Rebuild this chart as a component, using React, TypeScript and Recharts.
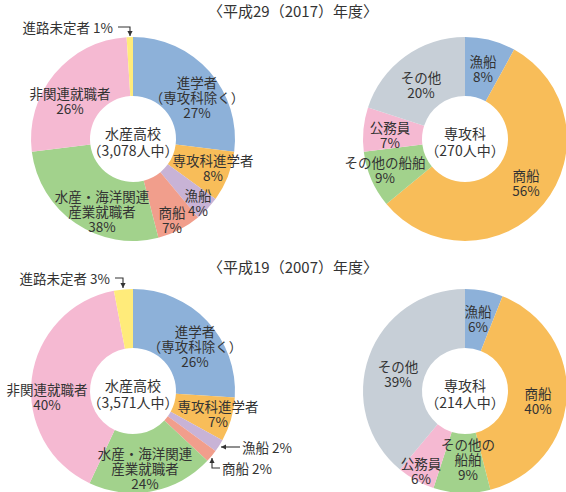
import { Pie, PieChart, Cell } from 'recharts';

const schoolCategories = ['進学者（専攻科除く）', '専攻科進学者', '漁船', '商船', '水産・海洋関連産業就職者', '非関連就職者', '進路未定者'];
const school2017 = [27, 8, 4, 7, 27, 26, 1];
const school2007 = [26, 7, 2, 2, 20, 40, 3];
const schoolColors = ['#8db1d9', '#f8bd59', '#c8b3d6', '#f19e8c', '#a2d28c', '#f5b9d2', '#ffeb7a'];

const majorCategories = ['漁船', '商船', 'その他の船舶', '公務員', 'その他'];
const major2017 = [8, 56, 9, 7, 20];
const major2007 = [6, 40, 9, 6, 39];
const majorColors = ['#8db1d9', '#f8bd59', '#a2d28c', '#f5b9d2', '#c7cfd7'];

const TEXT = '#333333';
const FONT = '"Noto Sans CJK JP", "Noto Sans", sans-serif';

type Leader = { text: string; x: number; y: number; anchor: 'start' | 'end'; path: number[][] };
type LabelSpot = { dx: number; dy: number; lines: string[]; leader?: Leader };

// shown percentage for the green slice includes 漁船 and 商船
const shown = (values: number[], i: number) =>
  i === 4 && values.length === 7 ? values[2] + values[3] + values[4] : values[i];

const schoolSpots2017 = (v: number[]): LabelSpot[] => [
  { dx: 64, dy: -57, lines: ['進学者', '（専攻科除く）', `${v[0]}%`] },
  { dx: 80, dy: 21, lines: ['専攻科進学者', `${v[1]}%`] },
  { dx: 65, dy: 56, lines: ['漁船', `${v[2]}%`] },
  { dx: 39, dy: 73, lines: ['商船', `${v[3]}%`] },
  { dx: -31, dy: 57, lines: ['水産・海洋関連', '産業就職者', `${shown(v, 4)}%`] },
  { dx: -63, dy: -46, lines: ['非関連就職者', `${v[5]}%`] },
  {
    dx: 0, dy: 0, lines: [],
    leader: { text: `進路未定者 ${v[6]}%`, x: -20, y: -112, anchor: 'end', path: [[-15, -112], [-3, -112], [-3, -103]] },
  },
];

const schoolSpots2007 = (v: number[]): LabelSpot[] => [
  { dx: 62, dy: -60, lines: ['進学者', '（専攻科除く）', `${v[0]}%`] },
  { dx: 85, dy: 15, lines: ['専攻科進学者', `${v[1]}%`] },
  {
    dx: 0, dy: 0, lines: [],
    leader: { text: `漁船 ${v[2]}%`, x: 109, y: 56, anchor: 'start', path: [[107, 56], [88, 56]] },
  },
  {
    dx: 0, dy: 0, lines: [],
    leader: { text: `商船 ${v[3]}%`, x: 89, y: 77, anchor: 'start', path: [[87, 77], [79, 77], [79, 67]] },
  },
  { dx: 12, dy: 62, lines: ['水産・海洋関連', '産業就職者', `${shown(v, 4)}%`] },
  { dx: -86, dy: -2, lines: ['非関連就職者', `${v[5]}%`] },
  {
    dx: 0, dy: 0, lines: [],
    leader: { text: `進路未定者 ${v[6]}%`, x: -23, y: -113, anchor: 'end', path: [[-18, -113], [-10, -113], [-10, -103]] },
  },
];

const majorSpots2017 = (v: number[]): LabelSpot[] => [
  { dx: 18, dy: -78, lines: ['漁船', `${v[0]}%`] },
  { dx: 61, dy: 36, lines: ['商船', `${v[1]}%`] },
  { dx: -80, dy: 23, lines: ['その他の船舶', `${v[2]}%`] },
  { dx: -75, dy: -12, lines: ['公務員', `${v[3]}%`] },
  { dx: -44, dy: -62, lines: ['その他', `${v[4]}%`] },
];

const majorSpots2007 = (v: number[]): LabelSpot[] => [
  { dx: 13, dy: -80, lines: ['漁船', `${v[0]}%`] },
  { dx: 73, dy: 2, lines: ['商船', `${v[1]}%`] },
  { dx: 3, dy: 53, lines: ['その他の', '船舶', `${v[2]}%`] },
  { dx: -44, dy: 72, lines: ['公務員', `${v[3]}%`] },
  { dx: -67, dy: -25, lines: ['その他', `${v[4]}%`] },
];

const toRows = (names: string[], values: number[]) => names.map((name, i) => ({ name, value: values[i] }));

const arrowHead = (from: number[], to: number[]) => {
  const ang = Math.atan2(to[1] - from[1], to[0] - from[0]);
  const len = 5;
  const w = 2.6;
  const bx = to[0] - len * Math.cos(ang);
  const by = to[1] - len * Math.sin(ang);
  const px = -Math.sin(ang) * w;
  const py = Math.cos(ang) * w;
  return `M${to[0]},${to[1]} L${bx + px},${by + py} L${bx - px},${by - py} Z`;
};

const makeLabel = (spots: LabelSpot[], center: string[]) => (props: any) => {
  const { cx, cy, index } = props;
  const spot = spots[index];
  const lh = 15;
  return (
    <g key={`lbl-${index}`}>
      {index === 0 && (
        <text x={cx} textAnchor="middle" fontSize={14} fill={TEXT} fontFamily={FONT}>
          <tspan x={cx} y={cy - 6} dominantBaseline="central">{center[0]}</tspan>
          <tspan x={cx} y={cy + 11} dominantBaseline="central">{center[1]}</tspan>
        </text>
      )}
      {spot.lines.length > 0 && (
        <text textAnchor="middle" fontSize={13.5} fill={TEXT} fontFamily={FONT}>
          {spot.lines.map((ln, k) => (
            <tspan key={k} x={cx + spot.dx} y={cy + spot.dy + k * lh} dominantBaseline="central">
              {ln}
            </tspan>
          ))}
        </text>
      )}
      {spot.leader && (
        <g>
          <text
            x={cx + spot.leader.x}
            y={cy + spot.leader.y}
            dominantBaseline="central"
            textAnchor={spot.leader.anchor}
            fontSize={13.5}
            fill={TEXT}
            fontFamily={FONT}
          >
            {spot.leader.text}
          </text>
          <polyline
            points={spot.leader.path.map((p) => `${cx + p[0]},${cy + p[1]}`).join(' ')}
            fill="none"
            stroke={TEXT}
            strokeWidth={1.1}
          />
          <path
            d={arrowHead(
              spot.leader.path[spot.leader.path.length - 2].map((c, j) => c + (j === 0 ? cx : cy)),
              spot.leader.path[spot.leader.path.length - 1].map((c, j) => c + (j === 0 ? cx : cy)),
            )}
            fill={TEXT}
          />
        </g>
      )}
    </g>
  );
};

const charts = [
  { key: 's17', cx: 128, cy: 134, names: schoolCategories, values: school2017, colors: schoolColors, spots: schoolSpots2017(school2017), center: ['水産高校', '（3,078人中）'] },
  { key: 'm17', cx: 460, cy: 134, names: majorCategories, values: major2017, colors: majorColors, spots: majorSpots2017(major2017), center: ['専攻科', '（270人中）'] },
  { key: 's07', cx: 128, cy: 386, names: schoolCategories, values: school2007, colors: schoolColors, spots: schoolSpots2007(school2007), center: ['水産高校', '（3,571人中）'] },
  { key: 'm07', cx: 460, cy: 386, names: majorCategories, values: major2007, colors: majorColors, spots: majorSpots2007(major2007), center: ['専攻科', '（214人中）'] },
];

const titleStyle: React.CSSProperties = {
  position: 'absolute',
  left: 0,
  width: 586,
  textAlign: 'center',
  fontFamily: FONT,
  fontSize: 15,
  color: TEXT,
  lineHeight: '20px',
};

export default function App() {
  return (
    <div style={{ position: 'absolute', left: 0, top: 0, width: 566, height: 492, background: '#ffffff' }}>
      <PieChart width={566} height={492}>
        {charts.map((c) => (
          <Pie
            key={c.key}
            data={toRows(c.names, c.values)}
            dataKey="value"
            nameKey="name"
            cx={c.cx}
            cy={c.cy}
            innerRadius={43}
            outerRadius={102}
            startAngle={90}
            endAngle={-270}
            stroke="none"
            isAnimationActive={false}
            labelLine={false}
            label={makeLabel(c.spots, c.center)}
          >
            {c.values.map((_, i) => (
              <Cell key={i} fill={c.colors[i]} />
            ))}
          </Pie>
        ))}
      </PieChart>
      <div style={{ ...titleStyle, top: 1 }}>〈平成29（2017）年度〉</div>
      <div style={{ ...titleStyle, top: 257 }}>〈平成19（2007）年度〉</div>
    </div>
  );
}
